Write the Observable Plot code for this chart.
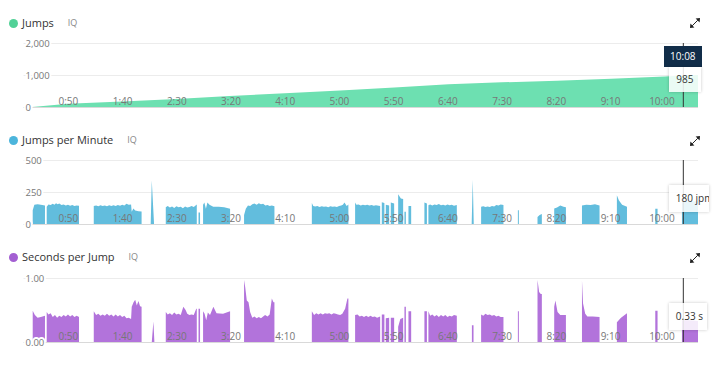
<!DOCTYPE html>
<html><head><meta charset="utf-8">
<script src="https://cdn.jsdelivr.net/npm/d3@7"></script>
<script src="https://cdn.jsdelivr.net/npm/@observablehq/plot@0.6"></script>
<style>
body{margin:0;background:#fff;font-family:"Open Sans",sans-serif;}
#root{position:relative;width:720px;height:372px;overflow:hidden;}
.hdr{position:absolute;left:9px;height:16px;line-height:16px;display:flex;align-items:center;white-space:nowrap;}
.dot{width:9px;height:9px;border-radius:50%;margin-right:4px;}
.ttl{font-size:11px;color:#333;}
.iq{font-size:9px;color:#888;margin-left:14px;}
.exp{position:absolute;left:690px;width:10px;height:10px;}
.plot{position:absolute;left:0;}
.tipDark{position:absolute;background:#112d49;color:#fff;font-size:10px;text-align:center;line-height:21px;height:21px;width:38px;}
.tipLight{position:absolute;background:rgba(255,255,255,0.86);color:#333;font-size:10px;box-shadow:0 0 3px rgba(0,0,0,0.22);white-space:nowrap;overflow:hidden;}
</style></head>
<body><div id="root"></div>
<script>
// ---- data ----
const tickSeconds = [50,100,150,200,250,300,350,400,450,500,550,600];
const cursorTime = 608;
const cursorLabel = "10:08";

const jumpsTime  = [8, 41, 91, 141, 190, 241, 292, 342, 392, 441, 492, 542, 591, 608, 622];
const jumpsCount = [0, 100, 170, 250, 340, 430, 515, 610, 710, 770, 820, 880, 950, 985, 1000];
const jumpsYTicks = [0, 1000, 2000];
const jumpsTip = "985";

const jpmTime = [
 8.5,10,13,16,19.8,19.8,
 21.4,23,25,27,28.5,30,31.5,33,35,37,39,41,43,45,47,49,51.2,51.2,
 64.8,67,69,71,73,75,77,79,81,83,85,87,89,91,93,95,97,99.2,99.8,101.3,103,106,108.9,108.9,
 117.3,118.3,120.4,120.4,
 131.2,133,135,137,139,141,143,145,147,149,151,153,155,157,159.8,159.8,
 161.4,162.8,162.8,
 165.6,166.8,168.2,169.6,171.5,175,180,185,190.5,190.5,
 203.4,205,207,209,211,213,215,217,219,221,223,225,227,229,231.4,231.4,
 265.9,267.2,269,271,273,275,277,279,281,283,285,287,289,291,293,294.5,296,298,299.6,299.6,
 305.8,307,309,311,313,315,317,319,321,323,325,328.9,328.9,
 330.4,332.8,332.8,
 334.1,337.2,337.2,
 338.7,341.8,341.8,
 345.5,348,350.1,350.1,
 351.3,352.6,352.6,
 355,357.5,357.5,
 369.7,372,372,
 373.4,375,377,379,381,383,385,387,389,391,393,395,397,399.6,399.6,
 413.3,414.3,415.2,415.2,
 422,424,426,428,430,432,434,436,438,440,442.6,442.6,
 455.9,456.8,456.8,
 474,476,478,478,
 489.4,492,495,498,500.2,500.2,
 515,519,523,527,531.2,531.2,
 547.2,549,552,556.5,556.5,
 582.6,584.7,584.7,
 607.2,614,622];
const jpmValue = [
 108,150,155,150,145,null,
 135,152,148,158,150,162,155,160,148,152,145,150,142,148,140,145,142,null,
 140,145,138,146,140,144,138,146,141,147,140,148,142,150,145,158,150,152,95,121,105,100,98,null,
 0,340,0,null,
 130,140,128,136,125,138,130,135,124,137,128,133,140,132,152,null,
 90,90,null,
 150,167,120,167,150,135,135,130,120,null,
 70,120,145,140,155,160,150,162,155,158,145,148,140,145,138,null,
 165,140,136,140,132,138,134,137,131,138,134,136,132,140,145,150,167,140,152,null,
 167,150,152,145,150,146,150,144,148,142,146,140,null,
 170,165,null,
 150,145,null,
 167,160,null,
 232,200,195,null,
 95,95,null,
 140,140,null,
 167,160,null,
 147,152,145,153,148,156,146,150,144,152,147,150,143,148,null,
 0,345,0,null,
 135,138,132,136,133,140,137,148,145,152,148,null,
 108,108,null,
 55,70,78,null,
 122,128,145,135,130,null,
 145,150,148,155,145,null,
 224,185,150,134,null,
 120,120,null,
 180,175,178];
const jpmYTicks = [0, 250, 500];
const jpmTip = "180 jpm";

const spjTime = [
 8.5,10.5,13,16,19.8,19.8,
 21.4,23,25,27,29,31,33,35,37,39,41,43,45,47,49,51.2,51.2,
 64.8,67,69,71,73,75,77,79,81,83,85,87,89,91,93,95,97,99.2,99.8,101.5,103,104.5,106,107.5,108.9,108.9,
 118.3,119.8,120.7,120.7,
 131.2,133,135,137,139,141,143,145,147.4,149.5,151,153,155,157,159.3,159.8,159.8,
 161.4,162.8,162.8,
 165.6,167,168.5,170,172,175.1,178,184,190.5,190.5,
 203.4,204.5,205.9,207.5,209,211,213,215,217,219,221,222.8,225,227,229,230.5,231.4,231.4,
 265.9,268,270,272,274,276,278,280,282,284,286,288,290,292,294,296.6,298.7,299.6,299.6,
 305.8,308,310,312,314,316,318,320,322,324,326,328.9,328.9,
 330.4,332.8,332.8,
 334.1,337.2,337.2,
 338.7,341.8,341.8,
 345.5,347.5,350.1,350.1,
 351.3,352.6,352.6,
 355,357.5,357.5,
 369.7,372,372,
 373.4,375,377,379,381,383,385,387,389,391,393,395,397,399.6,399.6,
 413.5,415,415,
 422,424,426,428,430,432,434,436,438,440,442.6,442.6,
 455.9,456.8,456.8,
 474,475.5,477,478,478,
 489.4,490.5,492.5,495,500.2,500.2,
 515,516,518,520,525,531.2,531.2,
 547.2,551,556.5,556.5,
 582.6,584.7,584.7,
 607.2,614,622];
const spjValue = [
 0.49,0.42,0.38,0.39,0.41,null,
 0.47,0.43,0.45,0.39,0.42,0.38,0.41,0.39,0.42,0.40,0.43,0.40,0.42,0.39,0.41,0.39,null,
 0.48,0.42,0.44,0.41,0.43,0.41,0.44,0.41,0.43,0.40,0.43,0.40,0.42,0.39,0.41,0.37,0.38,0.36,0.55,0.62,0.66,0.57,0.64,0.56,0.55,null,
 0,0.32,0,null,
 0.47,0.43,0.45,0.42,0.46,0.43,0.44,0.42,0.55,0.50,0.44,0.42,0.43,0.42,0.52,0.52,null,
 0.52,0.52,null,
 0.48,0.44,0.34,0.46,0.42,0.55,0.45,0.44,0.48,null,
 0.97,0.85,0.65,0.62,0.47,0.38,0.40,0.37,0.39,0.37,0.40,0.42,0.40,0.43,0.68,0.62,0.62,null,
 0.48,0.42,0.45,0.43,0.45,0.43,0.45,0.44,0.45,0.43,0.45,0.44,0.43,0.42,0.44,0.52,0.68,0.68,null,
 0.42,0.43,0.40,0.41,0.39,0.41,0.39,0.41,0.39,0.40,0.38,0.40,null,
 0.43,0.43,null,
 0.37,0.38,null,
 0.38,0.38,null,
 0.24,0.36,0.38,null,
 0.55,0.55,null,
 0.48,0.48,null,
 0.48,0.48,null,
 0.48,0.41,0.43,0.40,0.42,0.39,0.42,0.40,0.42,0.39,0.41,0.40,0.42,0.41,null,
 0.26,0.26,null,
 0.43,0.41,0.44,0.42,0.43,0.41,0.42,0.40,0.41,0.39,0.39,null,
 0.48,0.48,null,
 0.97,0.78,0.75,0.75,null,
 0.55,0.65,0.47,0.42,0.42,null,
 0.96,0.60,0.44,0.40,0.40,0.39,null,
 0.31,0.38,0.45,null,
 0.49,0.49,null,
 0.34,0.34,0.33];
const spjYTicks = [0, 1];
const spjTip = "0.33 s";

if (jpmTime.length !== jpmValue.length || spjTime.length !== spjValue.length)
  throw new Error(`length mismatch jpm ${jpmTime.length}/${jpmValue.length} spj ${spjTime.length}/${spjValue.length}`);

// ---- drawing ----
const root = document.getElementById("root");
const fmtTime = d => `${Math.floor(d/60)}:${String(d%60).padStart(2,"0")}`;
const expandSvg = `<svg class="exp" viewBox="0 0 10 10" style="top:TOPpx"><path d="M2.2 7.8 L7.8 2.2" stroke="#222" stroke-width="1"/><path d="M10 0 L5.6 0.4 L9.6 4.4 Z" fill="#222"/><path d="M0 10 L0.4 5.6 L4.4 9.6 Z" fill="#222"/></svg>`;

function panel({title, dotColor, fill, time, value, yDomain, yTicks, yFmt, top, hdrTop, expTop, tip}) {
  const rows = time.map((t, i) => ({t, v: value[i]}));
  const fig = Plot.plot({
    width: 720, height: 80,
    marginLeft: 23.5, marginRight: 22, marginTop: 8, marginBottom: 8,
    x: {domain: [0, 622], axis: null},
    y: {domain: yDomain, axis: null},
    style: {fontFamily: "Open Sans", overflow: "visible", background: "transparent"},
    marks: [
      Plot.ruleY(yTicks.filter(d => d !== 0), {stroke: "#ececec", strokeWidth: 1}),
      Plot.ruleY([0], {stroke: "#d9d9d9", strokeWidth: 1}),
      Plot.areaY(rows, {x: "t", y1: 0, y2: "v", fill, curve: "linear"}),
      Plot.text(yTicks, {y: d => d, frameAnchor: "left", textAnchor: "start", dx: 1.5, text: yFmt, fill: "#777", stroke: "white", strokeWidth: 4, fontSize: 9.5}),
      Plot.text(tickSeconds, {x: d => d, y: d => 0, dy: -6, textAnchor: "end", text: fmtTime, fill: "#777", fontSize: 10}),
      Plot.ruleX([cursorTime], {stroke: "#333", strokeWidth: 1})
    ]
  });
  fig.classList.add("plot");
  fig.style.top = top + "px";
  root.appendChild(fig);
  const hdr = document.createElement("div");
  hdr.className = "hdr";
  hdr.style.top = hdrTop + "px";
  hdr.innerHTML = `<span class="dot" style="background:${dotColor}"></span><span class="ttl">${title}</span><span class="iq">IQ</span>`;
  root.appendChild(hdr);
  root.insertAdjacentHTML("beforeend", expandSvg.replace("TOP", expTop));
  const cx = fig.scale("x").apply(cursorTime);
  tip(cx, top);
}

panel({title: "Jumps", dotColor: "#52d197", fill: "#6de0b1",
  time: jumpsTime, value: jumpsCount, yDomain: [0, 2000], yTicks: jumpsYTicks,
  yFmt: d => d3.format(",")(d), top: 35, hdrTop: 15, expTop: 18,
  tip: (cx) => {
    root.insertAdjacentHTML("beforeend",
      `<div class="tipDark" style="left:${cx-19}px;top:46px">${cursorLabel}</div>` +
      `<div class="tipLight" style="left:${cx-14}px;top:67px;width:32px;height:25px;line-height:25px;text-align:center">${jumpsTip}</div>`);
  }});

panel({title: "Jumps per Minute", dotColor: "#4cb5dc", fill: "#62bddd",
  time: jpmTime, value: jpmValue, yDomain: [0, 500], yTicks: jpmYTicks,
  yFmt: d => String(d), top: 152, hdrTop: 132, expTop: 136,
  tip: (cx) => {
    root.insertAdjacentHTML("beforeend",
      `<div class="tipLight" style="left:${cx-14}px;top:185px;width:40px;height:27px;line-height:27px;padding-left:7px;box-sizing:border-box">${jpmTip}</div>`);
  }});

panel({title: "Seconds per Jump", dotColor: "#a35fd2", fill: "#b273db",
  time: spjTime, value: spjValue, yDomain: [0, 1], yTicks: spjYTicks,
  yFmt: d => d.toFixed(2), top: 270, hdrTop: 249, expTop: 253,
  tip: (cx) => {
    root.insertAdjacentHTML("beforeend",
      `<div class="tipLight" style="left:${cx-14}px;top:303px;width:38px;height:27px;line-height:27px;padding-left:7px;box-sizing:border-box">${spjTip}</div>`);
  }});
</script></body></html>
